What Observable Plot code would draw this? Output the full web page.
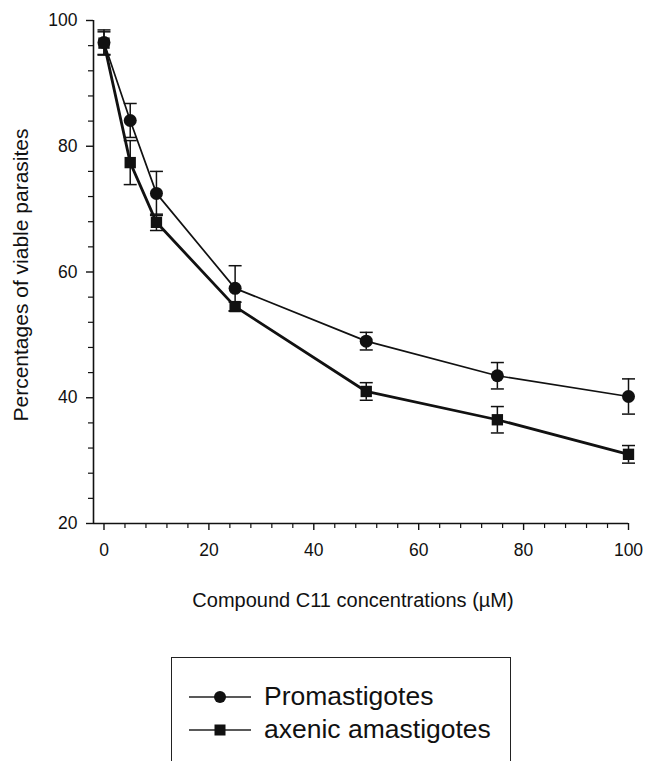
<!DOCTYPE html>
<html>
<head>
<meta charset="utf-8">
<script src="https://cdn.jsdelivr.net/npm/d3@7"></script>
<script src="https://cdn.jsdelivr.net/npm/@observablehq/plot@0.6"></script>
<style>
  html, body { margin: 0; padding: 0; background: #fff; }
  body { font-family: "Liberation Sans", Arial, sans-serif; width: 652px; height: 761px; overflow: hidden; position: relative; }
  #legend { position: absolute; left: 171px; top: 657px; width: 340px; height: 130px; border: 1px solid #222; box-sizing: border-box; padding-top: 22px; }
  .row { display: flex; align-items: center; height: 33px; }
  .row svg { margin-left: 17px; margin-right: 13px; }
  .row span { font-size: 26.5px; color: #111; }
</style>
</head>
<body>
<div id="chart"></div>
<div id="legend"></div>
<script>
const conc = [0, 5, 10, 25, 50, 75, 100];
const promMean = [96.5, 84.1, 72.5, 57.4, 49.0, 43.5, 40.2];
const promSE = [2.0, 2.7, 3.5, 3.6, 1.4, 2.1, 2.8];
const amasMean = [96.4, 77.4, 67.9, 54.5, 41.0, 36.5, 31.0];
const amasSE = [1.8, 3.5, 1.3, 0.7, 1.4, 2.1, 1.4];
const seriesNames = ["Promastigotes", "axenic amastigotes"];
const xMajor = [0, 20, 40, 60, 80, 100];
const yMajor = [20, 40, 60, 80, 100];
const xMinor = d3.range(0, 101, 4).filter(v => v % 20 !== 0);
const yMinor = d3.range(20, 101, 4).filter(v => v % 20 !== 0);

const prom = conc.map((x, i) => ({x, y: promMean[i], lo: promMean[i] - promSE[i], hi: promMean[i] + promSE[i]}));
const amas = conc.map((x, i) => ({x, y: amasMean[i], lo: amasMean[i] - amasSE[i], hi: amasMean[i] + amasSE[i]}));

const cap = { draw(ctx) { ctx.moveTo(-6.5, 0); ctx.lineTo(6.5, 0); } };
const font = "Liberation Sans, Arial, sans-serif";

function errBars(data) {
  return [
    Plot.ruleX(data, {x: "x", y1: "lo", y2: "hi", stroke: "#111", strokeWidth: 1.5}),
    Plot.dot(data, {x: "x", y: "hi", symbol: cap, stroke: "#111", strokeWidth: 1.5, r: 4}),
    Plot.dot(data, {x: "x", y: "lo", symbol: cap, stroke: "#111", strokeWidth: 1.5, r: 4})
  ];
}

const chart = Plot.plot({
  width: 652,
  height: 625,
  marginLeft: 93,
  marginRight: 24,
  marginTop: 20,
  marginBottom: 102,
  style: {fontFamily: font, fontSize: "17.5px", color: "#111", background: "#fff"},
  x: {domain: [-2, 100], label: null},
  y: {domain: [20, 100], label: null},
  marks: [
    Plot.axisX({ticks: xMajor, tickSize: 7, tickPadding: 13, fontSize: 17.5, strokeWidth: 1.4, label: null}),
    Plot.axisX({ticks: xMinor, tickSize: 5, tickFormat: () => "", strokeWidth: 1.2, label: null}),
    Plot.axisY({ticks: yMajor, tickSize: 7, tickPadding: 9, fontSize: 17.5, strokeWidth: 1.4, label: null}),
    Plot.axisY({ticks: yMinor, tickSize: 5, tickFormat: () => "", strokeWidth: 1.2, label: null}),
    Plot.ruleX([-2], {stroke: "#111", strokeWidth: 1.6}),
    Plot.ruleY([20], {stroke: "#111", strokeWidth: 1.6}),
    ...errBars(prom),
    ...errBars(amas),
    Plot.line(prom, {x: "x", y: "y", stroke: "#111", strokeWidth: 1.7}),
    Plot.line(amas, {x: "x", y: "y", stroke: "#111", strokeWidth: 2.8}),
    Plot.dot(prom, {x: "x", y: "y", symbol: "circle", r: 6.5, fill: "#111", stroke: "none"}),
    Plot.dot(amas, {x: "x", y: "y", symbol: "square", r: 6.4, fill: "#111", stroke: "none"}),
    Plot.text(["Percentages of viable parasites"], {frameAnchor: "left", textAnchor: "middle", rotate: -90, dx: -72, dy: 3, fontSize: 21, fill: "#111"}),
    Plot.text(["Compound C11 concentrations (µM)"], {frameAnchor: "bottom", textAnchor: "middle", dy: 83, dx: -8, fontSize: 20, fill: "#111"})
  ]
});
document.getElementById("chart").appendChild(chart);

const legend = document.getElementById("legend");
const swatch = [
  '<svg width="62" height="20"><line x1="0" y1="10" x2="62" y2="10" stroke="#222" stroke-width="1.3"/><circle cx="31" cy="10" r="6" fill="#111"/></svg>',
  '<svg width="62" height="20"><line x1="0" y1="10" x2="62" y2="10" stroke="#222" stroke-width="1.3"/><rect x="25.5" y="4.5" width="11" height="11" fill="#111"/></svg>'
];
seriesNames.forEach((name, i) => {
  const row = document.createElement("div");
  row.className = "row";
  row.innerHTML = swatch[i] + "<span>" + name + "</span>";
  legend.appendChild(row);
});
</script>
</body>
</html>
